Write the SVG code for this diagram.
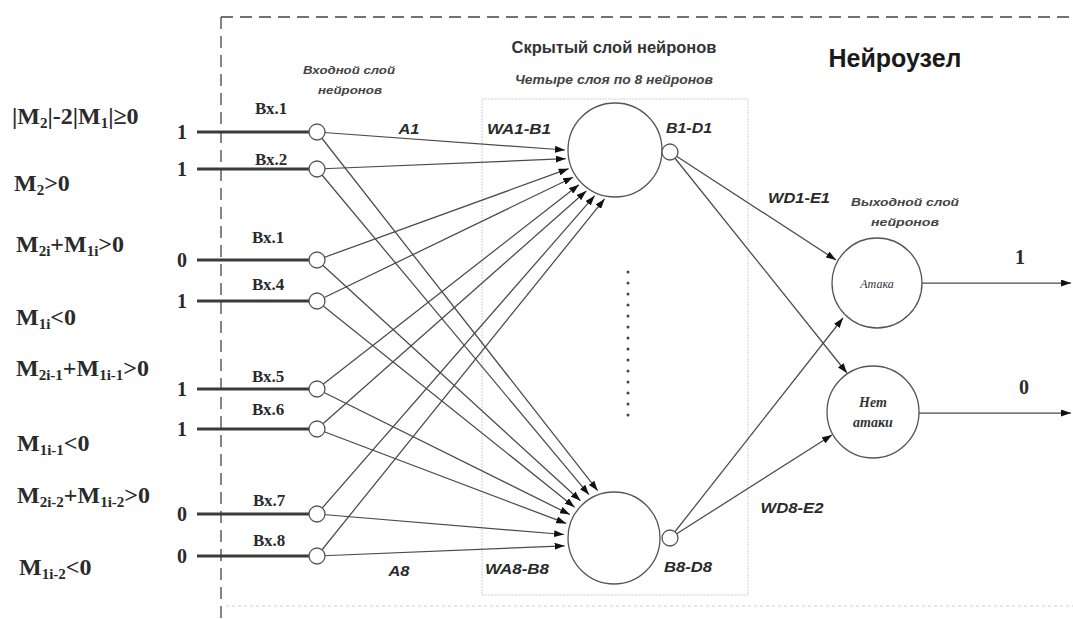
<svg xmlns="http://www.w3.org/2000/svg" width="1073" height="619" viewBox="0 0 1073 619">
  <style>
    .frame { fill: none; stroke: #444; stroke-width: 1.3; stroke-dasharray: 12 7; }
    .faint { fill: none; stroke: #cfcfcf; stroke-width: 1.2; stroke-dasharray: 3 3; }
    .box { fill: none; stroke: #cfcfcf; stroke-width: 1; stroke-dasharray: 2 1; }
    .feed { stroke: #3a3a3a; stroke-width: 3; }
    .link { stroke: #4a4a4a; stroke-width: 1.25; fill: none; }
    .arrow { marker-end: url(#tip); }
    .neuron { fill: #fff; stroke: #555; stroke-width: 1.3; }
    .cond { font-family: "Liberation Serif", serif; font-weight: bold; font-size: 24px; fill: #2a2a2a; }
    .cond .s { font-size: 15px; }
    .val { font-family: "Liberation Serif", serif; font-weight: bold; font-size: 20px; fill: #2a2a2a; text-anchor: middle; }
    .inp { font-family: "Liberation Serif", serif; font-weight: bold; font-size: 17px; fill: #2a2a2a; }
    .w { font-family: "Liberation Sans", sans-serif; font-style: italic; font-weight: bold; font-size: 15px; fill: #2a2a2a; text-anchor: middle; }
    .cap { font-family: "Liberation Sans", sans-serif; font-style: italic; font-weight: bold; font-size: 11.5px; fill: #444; text-anchor: middle; }
    .head { font-family: "Liberation Sans", sans-serif; font-weight: bold; font-size: 16px; fill: #333; text-anchor: middle; }
    .sub2 { font-family: "Liberation Sans", sans-serif; font-style: italic; font-weight: bold; font-size: 12.5px; fill: #444; text-anchor: middle; }
    .title { font-family: "Liberation Sans", sans-serif; font-weight: bold; font-size: 25px; fill: #1a1a1a; text-anchor: middle; }
    .out { font-family: "Liberation Serif", serif; font-style: italic; fill: #333; text-anchor: middle; }
  </style>
  <defs>
    <marker id="tip" markerUnits="userSpaceOnUse" markerWidth="10" markerHeight="7" refX="10" refY="3.5" orient="auto">
      <path d="M0,0 L10,3.5 L0,7 z" fill="#111"/>
    </marker>
  </defs>

  <!-- outer frame of the neuro-node -->
  <line class="frame" x1="221" y1="17" x2="221" y2="619"/>
  <line class="frame" x1="221" y1="17" x2="1073" y2="17"/>
  <line class="faint" x1="226" y1="606" x2="1073" y2="606"/>
  <rect class="box" x="482" y="99" width="266" height="496"/>

  <!-- headings -->
  <text class="title" x="895" y="67">Нейроузел</text>
  <text class="head" x="614" y="53" textLength="205" lengthAdjust="spacingAndGlyphs">Скрытый слой нейронов</text>
  <text class="sub2" x="614" y="84" textLength="198" lengthAdjust="spacingAndGlyphs">Четыре слоя по 8 нейронов</text>
  <text class="cap" x="349" y="74" textLength="92" lengthAdjust="spacingAndGlyphs">Входной слой</text>
  <text class="cap" x="350" y="94" textLength="64" lengthAdjust="spacingAndGlyphs">нейронов</text>
  <text class="cap" x="905" y="206" textLength="108" lengthAdjust="spacingAndGlyphs">Выходной слой</text>
  <text class="cap" x="905" y="226" textLength="68" lengthAdjust="spacingAndGlyphs">нейронов</text>

  <!-- input conditions -->
  <g id="conditions">
    <text class="cond" x="12" y="124">|M<tspan class="s" dy="4">2</tspan><tspan dy="-4">|-2|M</tspan><tspan class="s" dy="4">1</tspan><tspan dy="-4">|≥0</tspan></text>
    <text class="cond" x="14" y="191">M<tspan class="s" dy="4">2</tspan><tspan dy="-4">&gt;0</tspan></text>
    <text class="cond" x="16" y="252">M<tspan class="s" dy="4">2i</tspan><tspan dy="-4">+M</tspan><tspan class="s" dy="4">1i</tspan><tspan dy="-4">&gt;0</tspan></text>
    <text class="cond" x="16" y="325">M<tspan class="s" dy="4">1i</tspan><tspan dy="-4">&lt;0</tspan></text>
    <text class="cond" x="16" y="376">M<tspan class="s" dy="4">2i-1</tspan><tspan dy="-4">+M</tspan><tspan class="s" dy="4">1i-1</tspan><tspan dy="-4">&gt;0</tspan></text>
    <text class="cond" x="17" y="451">M<tspan class="s" dy="4">1i-1</tspan><tspan dy="-4">&lt;0</tspan></text>
    <text class="cond" x="17" y="503">M<tspan class="s" dy="4">2i-2</tspan><tspan dy="-4">+M</tspan><tspan class="s" dy="4">1i-2</tspan><tspan dy="-4">&gt;0</tspan></text>
    <text class="cond" x="19" y="575">M<tspan class="s" dy="4">1i-2</tspan><tspan dy="-4">&lt;0</tspan></text>
  </g>

  <!-- input values -->
  <g id="values">
    <text class="val" x="182" y="139">1</text>
    <text class="val" x="182" y="176">1</text>
    <text class="val" x="182" y="267">0</text>
    <text class="val" x="182" y="308">1</text>
    <text class="val" x="182" y="396">1</text>
    <text class="val" x="182" y="436">1</text>
    <text class="val" x="182" y="521">0</text>
    <text class="val" x="182" y="563">0</text>
  </g>

  <!-- connectors -->
  <g id="connectors">
    <!-- feed lines into input neurons -->
    <line class="feed" x1="197" y1="132" x2="312" y2="132"/>
    <line class="feed" x1="197" y1="169" x2="312" y2="169"/>
    <line class="feed" x1="197" y1="260" x2="312" y2="260"/>
    <line class="feed" x1="197" y1="301" x2="312" y2="301"/>
    <line class="feed" x1="197" y1="389" x2="312" y2="389"/>
    <line class="feed" x1="197" y1="429" x2="312" y2="429"/>
    <line class="feed" x1="197" y1="514" x2="312" y2="514"/>
    <line class="feed" x1="197" y1="556" x2="312" y2="556"/>

    <!-- input layer to first hidden neuron -->
    <line class="link arrow" x1="317" y1="132" x2="565" y2="150"/>
    <line class="link arrow" x1="317" y1="169" x2="565.8" y2="158.7"/>
    <line class="link arrow" x1="317" y1="260" x2="568.6" y2="168.7"/>
    <line class="link arrow" x1="317" y1="301" x2="573.1" y2="177.2"/>
    <line class="link arrow" x1="317" y1="389" x2="579" y2="184.7"/>
    <line class="link arrow" x1="317" y1="429" x2="586.3" y2="191"/>
    <line class="link arrow" x1="317" y1="514" x2="594.7" y2="195.7"/>
    <line class="link arrow" x1="317" y1="556" x2="604.6" y2="198.9"/>

    <!-- input layer to last hidden neuron -->
    <line class="link arrow" x1="317" y1="132" x2="597.7" y2="490.7"/>
    <line class="link arrow" x1="317" y1="169" x2="589" y2="494.7"/>
    <line class="link arrow" x1="317" y1="260" x2="580.5" y2="500.8"/>
    <line class="link arrow" x1="317" y1="301" x2="574.6" y2="507.2"/>
    <line class="link arrow" x1="317" y1="389" x2="569.9" y2="514.5"/>
    <line class="link arrow" x1="317" y1="429" x2="566.2" y2="523.4"/>
    <line class="link arrow" x1="317" y1="514" x2="564.1" y2="534.5"/>
    <line class="link arrow" x1="317" y1="556" x2="564.6" y2="545.8"/>

    <!-- hidden layer to output layer -->
    <line class="link arrow" x1="670" y1="152" x2="836" y2="260"/>
    <line class="link arrow" x1="670" y1="152" x2="847" y2="373"/>
    <line class="link arrow" x1="670" y1="538" x2="843" y2="318"/>
    <line class="link arrow" x1="670" y1="538" x2="832" y2="435"/>

    <!-- outputs -->
    <line class="link arrow" x1="922" y1="283" x2="1071" y2="283"/>
    <line class="link arrow" x1="919" y1="413" x2="1071" y2="413"/>
  </g>

  <!-- input layer -->
  <g id="in1"><circle class="neuron" cx="317" cy="132" r="8"/><text class="inp" x="255" y="114">Вх.1</text></g>
  <g id="in2"><circle class="neuron" cx="317" cy="169" r="8"/><text class="inp" x="255" y="165">Вх.2</text></g>
  <g id="in3"><circle class="neuron" cx="317" cy="260" r="8"/><text class="inp" x="252" y="243">Вх.1</text></g>
  <g id="in4"><circle class="neuron" cx="317" cy="301" r="8"/><text class="inp" x="252" y="290">Вх.4</text></g>
  <g id="in5"><circle class="neuron" cx="317" cy="389" r="8"/><text class="inp" x="252" y="382">Вх.5</text></g>
  <g id="in6"><circle class="neuron" cx="317" cy="429" r="8"/><text class="inp" x="252" y="415">Вх.6</text></g>
  <g id="in7"><circle class="neuron" cx="317" cy="514" r="8"/><text class="inp" x="253" y="506">Вх.7</text></g>
  <g id="in8"><circle class="neuron" cx="317" cy="556" r="8"/><text class="inp" x="253" y="546">Вх.8</text></g>

  <!-- hidden layer -->
  <g id="hidden1">
    <circle class="neuron" cx="615" cy="150" r="47"/>
    <circle class="neuron" cx="670" cy="152" r="8"/>
    <text class="w" x="519" y="134" textLength="64" lengthAdjust="spacingAndGlyphs">WA1-B1</text>
    <text class="w" x="689" y="133" textLength="46" lengthAdjust="spacingAndGlyphs">B1-D1</text>
    <text class="w" x="409" y="134" textLength="21" lengthAdjust="spacingAndGlyphs">A1</text>
  </g>
  <g id="hidden-dots" fill="#444">
    <circle cx="628" cy="272" r="1.5"/><circle cx="628" cy="283" r="1.5"/><circle cx="628" cy="294" r="1.5"/>
    <circle cx="628" cy="305" r="1.5"/><circle cx="628" cy="316" r="1.5"/><circle cx="628" cy="327" r="1.5"/>
    <circle cx="628" cy="338" r="1.5"/><circle cx="628" cy="349" r="1.5"/><circle cx="628" cy="360" r="1.5"/>
    <circle cx="628" cy="371" r="1.5"/><circle cx="628" cy="382" r="1.5"/><circle cx="628" cy="393" r="1.5"/>
    <circle cx="628" cy="404" r="1.5"/><circle cx="628" cy="415" r="1.5"/>
  </g>
  <g id="hidden8">
    <circle class="neuron" cx="614" cy="538" r="46"/>
    <circle class="neuron" cx="670" cy="538" r="8"/>
    <text class="w" x="517" y="574" textLength="64" lengthAdjust="spacingAndGlyphs">WA8-B8</text>
    <text class="w" x="688" y="572" textLength="48" lengthAdjust="spacingAndGlyphs">B8-D8</text>
    <text class="w" x="399" y="576" textLength="21" lengthAdjust="spacingAndGlyphs">A8</text>
  </g>

  <!-- weight labels toward outputs -->
  <text class="w" x="799" y="203" textLength="62" lengthAdjust="spacingAndGlyphs">WD1-E1</text>
  <text class="w" x="792" y="513" textLength="63" lengthAdjust="spacingAndGlyphs">WD8-E2</text>

  <!-- output layer -->
  <g id="attack">
    <circle class="neuron" cx="877" cy="283" r="45"/>
    <text class="out" x="877" y="288" font-size="12">Атака</text>
    <text class="val" x="1020" y="264">1</text>
  </g>
  <g id="no-attack">
    <circle class="neuron" cx="873" cy="412" r="46"/>
    <text class="out" x="873" y="407" font-size="14" font-weight="bold">Нет</text>
    <text class="out" x="873" y="427" font-size="14" font-weight="bold">атаки</text>
    <text class="val" x="1024" y="394">0</text>
  </g>
</svg>
